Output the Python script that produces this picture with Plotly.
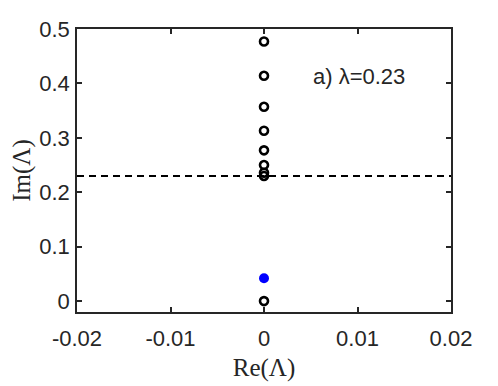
import plotly.graph_objects as go

# eigenvalues Lambda at lambda = 0.23
re_open = [0, 0, 0, 0, 0, 0, 0, 0, 0]
im_open = [0.477, 0.414, 0.357, 0.313, 0.277, 0.250, 0.236, 0.230, 0.0]
re_blue = [0]
im_blue = [0.042]
lam = 0.23
x_ticks = [-0.02, -0.01, 0, 0.01, 0.02]
y_ticks = [0, 0.1, 0.2, 0.3, 0.4, 0.5]

axis_col = '#262626'
font = dict(family='Liberation Sans, Arial', size=22, color=axis_col)
serif = dict(family='Liberation Serif, Times New Roman', size=25, color=axis_col)

fig = go.Figure()
fig.add_trace(go.Scatter(
    x=[-0.02, 0.02], y=[lam, lam], mode='lines',
    line=dict(color='black', width=2, dash='7px,5px'),
    showlegend=False))
fig.add_trace(go.Scatter(
    x=re_open, y=im_open, mode='markers',
    marker=dict(symbol='circle-open', size=8, color='black',
                line=dict(width=2.6, color='black')),
    showlegend=False))
fig.add_trace(go.Scatter(
    x=re_blue, y=im_blue, mode='markers',
    marker=dict(symbol='circle', size=10, color='#0000ff'),
    showlegend=False))

fig.add_annotation(x=0.005, y=0.413, text='a) λ=0.23', showarrow=False,
                   xanchor='left', yanchor='middle', font=font)

axis = dict(showgrid=False, zeroline=False, showline=True, mirror='allticks',
            linecolor=axis_col, linewidth=1.5, ticks='inside', ticklen=5,
            tickwidth=1.5, tickcolor=axis_col, tickfont=font, automargin=False)

# page body has an 8px margin, so the figure is shifted by 8px
fig.update_layout(
    width=490, height=378,
    margin=dict(l=69, r=47, t=21, b=74),
    plot_bgcolor='white', paper_bgcolor='white',
    xaxis=dict(axis, range=[-0.02, 0.02], tickvals=x_ticks,
               ticktext=['-0.02', '-0.01', '0', '0.01', '0.02'],
               ticklabelstandoff=6,
               title=dict(text='Re(Λ)', font=serif, standoff=8)),
    yaxis=dict(axis, range=[-0.02, 0.5], tickvals=y_ticks,
               ticktext=['0', '0.1', '0.2', '0.3', '0.4', '0.5'],
               ticklabelstandoff=1,
               title=dict(text='Im(Λ)', font=serif, standoff=30)),
)

fig.write_html('out.html')
